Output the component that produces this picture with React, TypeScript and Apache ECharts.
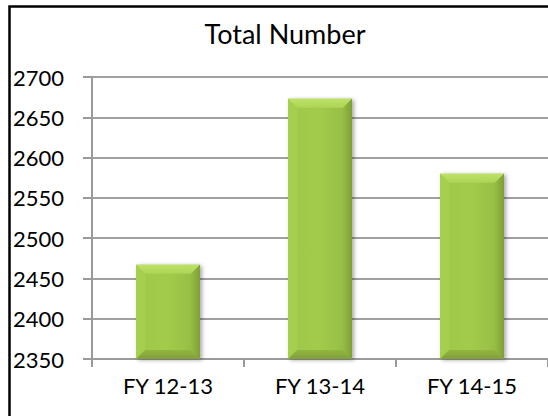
import React, { useEffect, useRef } from "react";
import * as echarts from "echarts";

const categories = ["FY 12-13", "FY 13-14", "FY 14-15"];
const totals = [2467, 2673, 2580];
const yMin = 2350;
const yMax = 2700;
const yStep = 50;
const titleText = "Total Number";

export default function App() {
  const ref = useRef<HTMLDivElement>(null);
  useEffect(() => {
    if (!ref.current) return;
    const chart = echarts.init(ref.current, null, { renderer: "svg" });
    const font = "Lato, 'Open Sans', sans-serif";
    chart.setOption({
      animation: false,
      backgroundColor: "#ffffff",
      title: {
        text: titleText,
        left: 280,
        top: 15,
        textAlign: "center",
        textStyle: { fontFamily: font, fontSize: 27, fontWeight: "normal", color: "#000" },
      },
      graphic: [
        {
          type: "rect",
          shape: { x: 9.5, y: 6.5, width: 700, height: 600 },
          style: { fill: "none", stroke: "#000", lineWidth: 2.5 },
          z: 100,
        },
      ],
      grid: { left: 92, right: -9, top: 77, bottom: 57 },
      xAxis: {
        type: "category",
        data: categories,
        axisLine: { lineStyle: { color: "#9a9a9a", width: 2 } },
        axisTick: { show: true, length: 8, lineStyle: { color: "#9a9a9a", width: 2 } },
        axisLabel: { fontFamily: font, fontSize: 22, color: "#000", margin: 15 },
      },
      yAxis: {
        type: "value",
        min: yMin,
        max: yMax,
        interval: yStep,
        axisLine: { show: true, lineStyle: { color: "#9a9a9a", width: 2 } },
        axisTick: { show: true, length: 9, lineStyle: { color: "#9a9a9a", width: 2 } },
        splitLine: { lineStyle: { color: "#a0a0a0", width: 2 } },
        axisLabel: {
          fontFamily: font,
          fontSize: 22,
          color: "#000",
          align: "left",
          margin: 79,
          formatter: (v: number) => String(v),
        },
      },
      series: [
        {
          type: "custom",
          data: totals.map((v, i) => [i, v]),
          encode: { x: 0, y: 1 },
          renderItem: (params: any, api: any) => {
            const idx = api.value(0);
            const top = api.coord([idx, api.value(1)]);
            const base = api.coord([idx, yMin]);
            const bw = 64;
            const x = top[0] - bw / 2;
            const y = top[1];
            const h = base[1] - top[1];
            const b = 9;
            return {
              type: "group",
              children: [
                {
                  type: "rect",
                  shape: { x, y, width: bw, height: h },
                  style: {
                    fill: new echarts.graphic.LinearGradient(0, 0, 1, 0, [
                      { offset: 0, color: "#a0c84a" },
                      { offset: 0.5, color: "#a2cb4b" },
                      { offset: 1, color: "#93ba42" },
                    ]),
                    shadowBlur: 4,
                    shadowOffsetX: 2,
                    shadowOffsetY: 1,
                    shadowColor: "rgba(0,0,0,0.35)",
                  },
                },
                {
                  type: "polygon",
                  shape: { points: [[x, y], [x + bw, y], [x + bw - b, y + b], [x + b, y + b]] },
                  style: {
                    fill: new echarts.graphic.LinearGradient(0, 0, 0, 1, [
                      { offset: 0, color: "#bde267" },
                      { offset: 1, color: "#aed456" },
                    ]),
                  },
                },
                {
                  type: "polygon",
                  shape: { points: [[x, y], [x + b, y + b], [x + b, y + h - b], [x, y + h]] },
                  style: { fill: "#a6ce4f" },
                },
                {
                  type: "polygon",
                  shape: { points: [[x + bw, y], [x + bw, y + h], [x + bw - b, y + h - b], [x + bw - b, y + b]] },
                  style: {
                    fill: new echarts.graphic.LinearGradient(0, 0, 1, 0, [
                      { offset: 0, color: "#95bd44" },
                      { offset: 1, color: "#7f9f35" },
                    ]),
                  },
                },
                {
                  type: "polygon",
                  shape: { points: [[x, y + h], [x + bw, y + h], [x + bw - b, y + h - b], [x + b, y + h - b]] },
                  style: {
                    fill: new echarts.graphic.LinearGradient(0, 0, 0, 1, [
                      { offset: 0, color: "#92b641" },
                      { offset: 1, color: "#819f37" },
                    ]),
                  },
                },
              ],
            };
          },
        },
      ],
    });
    return () => chart.dispose();
  }, []);
  return (
    <div
      ref={ref}
      style={{ position: "absolute", left: 0, top: 0, width: 548, height: 416 }}
    />
  );
}
